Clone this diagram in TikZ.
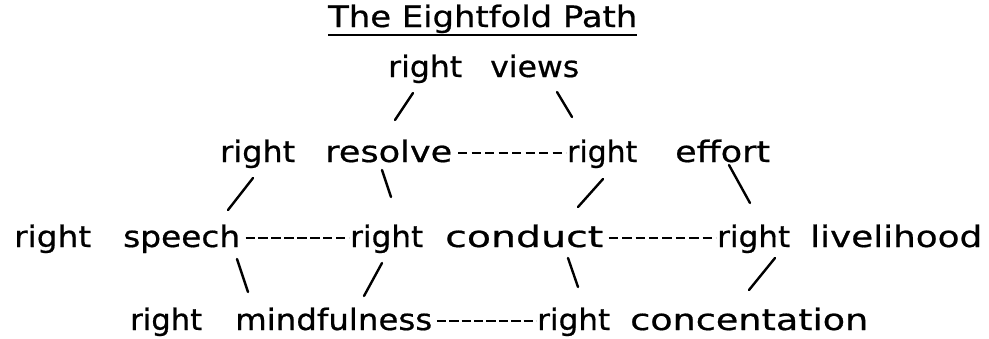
\documentclass[tikz,border=0pt]{standalone}
\usepackage{fontspec}
\setmainfont{DejaVu Sans}
\newfontfamily\wordfont{DejaVu Sans}[FakeBold=0.6]
\usepackage{graphicx}
\usetikzlibrary{decorations}
\newcommand\fitw[2]{\resizebox{#1pt}{\height}{#2}}
\tikzset{
  word/.style={inner sep=0pt, anchor=base west, font=\wordfont\fontsize{29.5}{30}\selectfont},
  slash/.style={line width=2.4pt, line cap=round},
  dashline/.style={line width=2.8pt, dash pattern=on 9.3pt off 2.9pt, dash expand off}
}
\begin{document}
\begin{tikzpicture}[x=1pt,y=-1pt]
\useasboundingbox (0,0) rectangle (989,338);
% title
\node[word] (title) at (328,27) {\fitw{309}{The Eightfold Path}};
\draw[line width=2.2pt] ([yshift=-8pt]title.base west) -- ([yshift=-8pt]title.base east);
% row 2
\node[word] (r1) at (388,77) {\fitw{74}{right}};
\node[word] (views) at (490,77) {\fitw{89}{views}};
% row 3
\node[word] (r2) at (220,162) {\fitw{75}{right}};
\node[word] (resolve) at (325,162) {\fitw{127}{resolve}};
\node[word] (r3) at (567,162) {\fitw{70}{right}};
\node[word] (effort) at (675,162) {\fitw{95}{effort}};
% row 4
\node[word] (r4) at (14,247) {\fitw{77}{right}};
\node[word] (speech) at (123,247) {\fitw{117}{speech}};
\node[word] (r5) at (350,247) {\fitw{73}{right}};
\node[word] (conduct) at (445,247) {\fitw{158}{conduct}};
\node[word] (r6) at (717,247) {\fitw{73}{right}};
\node[word] (livelihood) at (810,247) {\fitw{172}{livelihood}};
% row 5
\node[word] (r7) at (130,330) {\fitw{72}{right}};
\node[word] (mindfulness) at (235,330) {\fitw{197}{mindfulness}};
\node[word] (r8) at (537,330) {\fitw{73}{right}};
\node[word] (concentation) at (630,330) {\fitw{238}{concentation}};
% dashed links
\draw[dashline] ([xshift=1.5pt,yshift=9pt]resolve.base east) -- ([xshift=-1pt,yshift=9pt]r3.base west);
\draw[dashline] ([xshift=1.5pt,yshift=9pt]speech.base east) -- ([xshift=-1pt,yshift=9pt]r5.base west);
\draw[dashline] ([xshift=1.5pt,yshift=9pt]conduct.base east) -- ([xshift=-1pt,yshift=9pt]r6.base west);
\draw[dashline] ([xshift=1.5pt,yshift=9pt]mindfulness.base east) -- ([xshift=-1pt,yshift=9pt]r8.base west);
% slash end points
\coordinate (a1) at (413,93);  \coordinate (a2) at (395,120);
\coordinate (b1) at (557,92);  \coordinate (b2) at (572,117);
\coordinate (c1) at (253,178); \coordinate (c2) at (228,210);
\coordinate (d1) at (382,170); \coordinate (d2) at (391,197);
\coordinate (e1) at (603,179); \coordinate (e2) at (578,207);
\coordinate (f1) at (729,165); \coordinate (f2) at (750,203);
\coordinate (g1) at (237,259); \coordinate (g2) at (248,292);
\coordinate (h1) at (382,263); \coordinate (h2) at (364,296);
\coordinate (i1) at (568,258); \coordinate (i2) at (578,287);
\coordinate (j1) at (775,258); \coordinate (j2) at (749,290);
\foreach \p in {a,b,c,d,e,f,g,h,i,j} \draw[slash] (\p1) -- (\p2);
\end{tikzpicture}
\end{document}
